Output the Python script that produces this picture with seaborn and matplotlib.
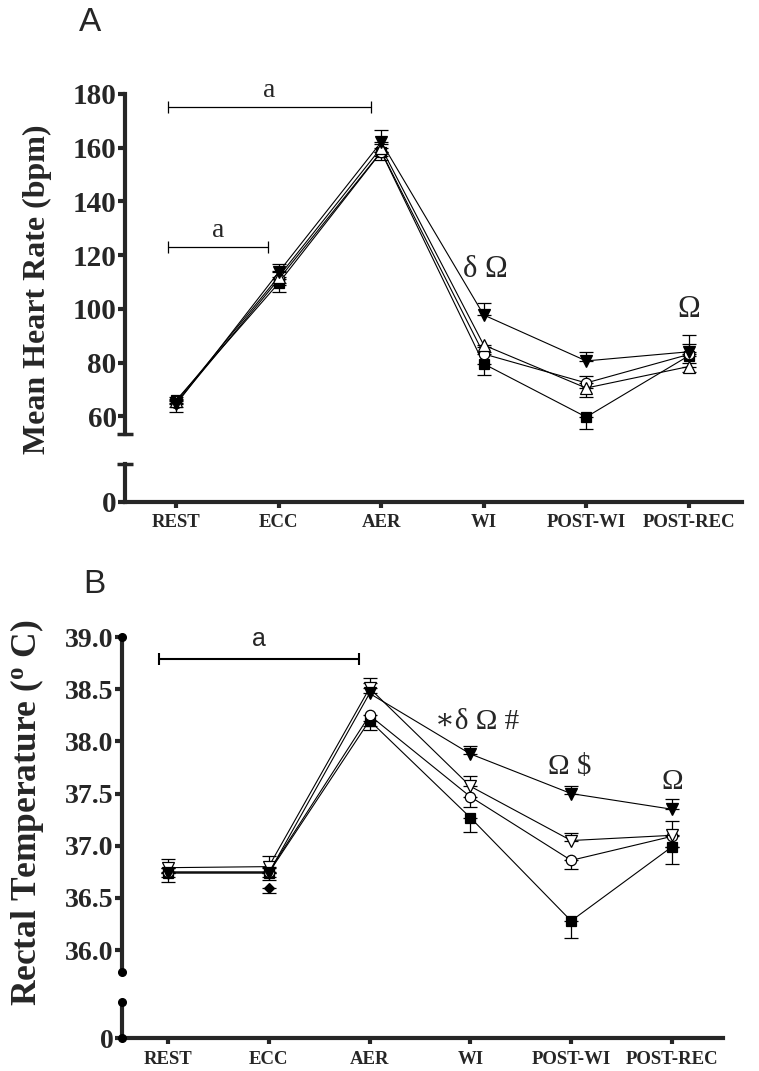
import numpy as np
import pandas as pd
import seaborn as sns
import matplotlib.pyplot as plt

# x categories (same for both panels)
timepoints = ['REST', 'ECC', 'AER', 'WI', 'POST-WI', 'POST-REC']

# Panel A: mean heart rate (bpm), one list per condition, one-sided SEM
hr_tri_down = [64.5, 113.7, 162.1, 97.7, 80.6, 84.0]
hr_tri_down_err = [2.0, 3.0, 4.5, 4.3, 3.4, 6.2]
hr_tri_up = [65.5, 112.0, 160.0, 86.5, 70.5, 78.5]
hr_tri_up_err = [2.0, 3.0, 3.0, 2.5, 3.3, 2.0]
hr_circle = [65.0, 111.0, 158.5, 83.2, 72.4, 83.0]
hr_circle_err = [2.0, 3.0, 3.0, 2.5, 2.6, 4.0]
hr_square = [66.0, 109.6, 158.4, 79.5, 59.7, 82.5]
hr_square_err = [4.5, 3.3, 3.0, 4.2, 4.4, 2.5]

# Panel B: rectal temperature (deg C)
rt_tri_down = [36.74, 36.74, 38.46, 37.88, 37.50, 37.35]
rt_tri_down_err = [0.05, 0.05, 0.10, 0.08, 0.07, 0.10]
rt_tri_open = [36.79, 36.80, 38.51, 37.57, 37.05, 37.10]
rt_tri_open_err = [0.08, 0.10, 0.10, 0.10, 0.07, 0.14]
rt_circle = [36.75, 36.75, 38.25, 37.47, 36.86, 37.09]
rt_circle_err = [0.05, 0.05, 0.10, 0.10, 0.08, 0.10]
rt_square = [36.74, 36.74, 38.20, 37.27, 36.28, 36.99]
rt_square_err = [0.09, 0.07, 0.09, 0.14, 0.16, 0.16]
rt_diamond = [np.nan, 36.60, np.nan, np.nan, np.nan, np.nan]
rt_diamond_err = [0.0, 0.05, 0.0, 0.0, 0.0, 0.0]

# significance brackets: (x start, x end, y, label)
hr_brackets = [(-0.08, 1.9, 175, 'a'), (-0.08, 0.9, 123, 'a')]
rt_brackets = [(-0.09, 1.9, 38.79, 'a')]
# symbols above points: (x, y, text)
hr_symbols = [(3.02, 114.5, 'δ Ω'), (5.0, 99.6, 'Ω')]
rt_symbols = [(3.07, 38.19, '∗δ Ω #'), (3.99, 37.75, 'Ω $'), (5.0, 37.61, 'Ω')]

sns.set_style('ticks')
plt.rcParams['font.family'] = ['Liberation Serif', 'DejaVu Serif']
plt.rcParams['mathtext.fontset'] = 'stix'

SERIF = ['Liberation Serif', 'DejaVu Serif']
SANS = ['Liberation Sans', 'DejaVu Sans']


def draw_series(ax, values, errs, side, marker, filled, ms):
    df = pd.DataFrame({'x': np.arange(len(timepoints)), 'y': values})
    err = np.array(errs)
    zeros = np.zeros_like(err)
    yerr = [zeros, err] if side == 'up' else [err, zeros]
    ax.errorbar(df['x'], df['y'], yerr=yerr, fmt='none', ecolor='black',
                elinewidth=0.9, capsize=5, capthick=0.9, zorder=2)
    line = df.dropna()
    sns.lineplot(data=line, x='x', y='y', ax=ax, color='black', lw=0.8,
                 marker=marker, ms=ms, markerfacecolor='black' if filled else 'white',
                 markeredgecolor='black', markeredgewidth=0.9, zorder=3)


def style_axes(ax_top, ax_bot, xlim, ylim, yticks, ylabels, tick_fs, round_ends):
    for ax in (ax_top, ax_bot):
        ax.set_xlim(xlim)
        ax.set_xlabel('')
        ax.set_ylabel('')
        for s in ('top', 'right'):
            ax.spines[s].set_visible(False)
        ax.spines['left'].set_linewidth(3)
    ax_top.spines['bottom'].set_visible(False)
    ax_top.set_ylim(ylim)
    ax_top.set_yticks(yticks)
    ax_top.set_yticklabels(ylabels, fontsize=tick_fs, fontweight='bold')
    ax_top.tick_params(axis='x', bottom=False, labelbottom=False)
    ax_top.tick_params(axis='y', length=5, width=3, pad=1)

    ax_bot.set_ylim(0, 1)
    ax_bot.set_yticks([0])
    ax_bot.set_yticklabels(['0'], fontsize=tick_fs, fontweight='bold')
    ax_bot.spines['bottom'].set_linewidth(3)
    ax_bot.set_xticks(np.arange(len(timepoints)))
    ax_bot.set_xticklabels(timepoints, fontsize=13.5, fontweight='bold')
    ax_bot.tick_params(axis='y', length=5, width=3, pad=1)
    ax_bot.tick_params(axis='x', length=4, width=3, pad=5)

    if round_ends:
        for ax in (ax_top, ax_bot):
            ax.plot([0, 0], [0, 1], transform=ax.transAxes, ls='none', marker='o',
                    ms=5.5, color='black', clip_on=False, zorder=5)
    else:
        ax_top.set_yticks([ylim[0]], minor=True)
        ax_top.tick_params(axis='y', which='minor', direction='inout', length=11, width=2.5)
        ax_bot.set_yticks([1], minor=True)
        ax_bot.tick_params(axis='y', which='minor', direction='inout', length=11, width=2.5)


def draw_bracket(ax, x0, x1, y, label, lw, label_dy, fam, fs):
    ax.plot([x0, x1], [y, y], color='black', lw=lw, zorder=4)
    ax.plot([x0, x1], [y, y], ls='none', marker='|', ms=8, mew=lw, color='black', zorder=4)
    ax.text((x0 + x1) / 2, y + label_dy, label, ha='center', va='bottom',
            fontsize=fs, family=fam)


fig = plt.figure(figsize=(7.59, 10.71), dpi=100)

# ---- Panel A ----
axA = fig.add_axes([0.1647, 0.5948, 0.8129, 0.3175])
axA0 = fig.add_axes([0.1647, 0.5313, 0.8129, 0.0355])
draw_series(axA, hr_square, hr_square_err, 'down', 's', True, 7.5)
draw_series(axA, hr_circle, hr_circle_err, 'up', 'o', False, 7.5)
draw_series(axA, hr_tri_up, hr_tri_up_err, 'down', '^', False, 8)
draw_series(axA, hr_tri_down, hr_tri_down_err, 'up', 'v', True, 8)
style_axes(axA, axA0, (-0.5, 5.52), (53.4, 180), np.arange(60, 181, 20),
           [str(v) for v in range(60, 181, 20)], 21, False)
for x0, x1, y, lab in hr_brackets:
    draw_bracket(axA, x0, x1, y, lab, 0.9, 1.5, SERIF, 20)
for x, y, t in hr_symbols:
    axA.text(x, y, t, ha='center', va='center', fontsize=22, family=SERIF)
fig.text(0.049, 0.730, 'Mean Heart Rate (bpm)', rotation=90, ha='center', va='center',
         fontsize=23, fontweight='bold', family=SERIF)
fig.text(0.119, 0.979, 'A', ha='center', va='center', fontsize=24, family=SANS)

# ---- Panel B ----
axB = fig.add_axes([0.1607, 0.0924, 0.7918, 0.3128])
axB0 = fig.add_axes([0.1607, 0.0308, 0.7918, 0.0336])
draw_series(axB, rt_diamond, rt_diamond_err, 'down', 'D', True, 5.5)
draw_series(axB, rt_square, rt_square_err, 'down', 's', True, 7.5)
draw_series(axB, rt_circle, rt_circle_err, 'down', 'o', False, 7.5)
draw_series(axB, rt_tri_open, rt_tri_open_err, 'up', 'v', False, 8)
draw_series(axB, rt_tri_down, rt_tri_down_err, 'up', 'v', True, 8)
style_axes(axB, axB0, (-0.456, 5.506), (35.79, 39.0), np.arange(36.0, 39.01, 0.5),
           ['%.1f' % v for v in np.arange(36.0, 39.01, 0.5)], 20, True)
for x0, x1, y, lab in rt_brackets:
    draw_bracket(axB, x0, x1, y, lab, 1.5, 0.08, SANS, 18)
for x, y, t in rt_symbols:
    axB.text(x, y, t, ha='center', va='center', fontsize=21, family=SERIF)
fig.text(0.036, 0.241, 'Rectal Temperature ($\\mathregular{^o}$ C)', rotation=90,
         ha='center', va='center', fontsize=25.5, fontweight='bold', family=SERIF)
fig.text(0.125, 0.454, 'B', ha='center', va='center', fontsize=24, family=SANS)

fig.savefig('out.png', dpi=100)
